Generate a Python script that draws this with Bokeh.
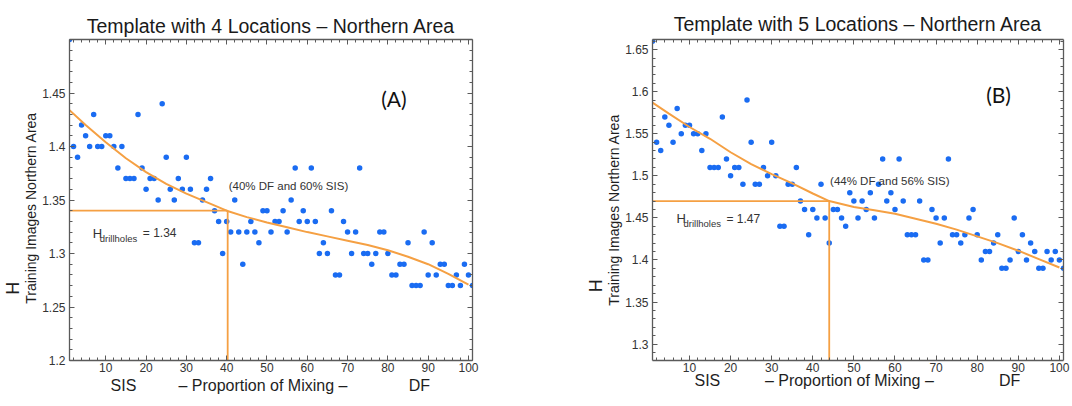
import numpy as np
from bokeh.plotting import figure
from bokeh.layouts import row
from bokeh.models import Range1d, FixedTicker, LinearAxis, Label, CustomJSTickFormatter
from bokeh.embed import file_html
from bokeh.resources import INLINE

# ---------------- data ----------------
mix_index = list(range(1, 102))

h_ti_4loc = [1.50, 1.40, 1.39, 1.42, 1.41, 1.40, 1.43, 1.40, 1.40, 1.41,
             1.41, 1.40, 1.38, 1.40, 1.37, 1.37, 1.37, 1.43, 1.38, 1.36,
             1.37, 1.37, 1.35, 1.44, 1.39, 1.36, 1.35, 1.37, 1.36, 1.39,
             1.36, 1.31, 1.31, 1.35, 1.36, 1.37, 1.34, 1.33, 1.30, 1.33,
             1.32, 1.35, 1.32, 1.29, 1.32, 1.33, 1.32, 1.31, 1.34, 1.34,
             1.32, 1.33, 1.33, 1.34, 1.32, 1.35, 1.38, 1.33, 1.34, 1.33,
             1.38, 1.33, 1.30, 1.31, 1.30, 1.34, 1.28, 1.28, 1.33, 1.32,
             1.30, 1.32, 1.38, 1.30, 1.30, 1.29, 1.30, 1.32, 1.32, 1.30,
             1.28, 1.28, 1.29, 1.29, 1.31, 1.27, 1.27, 1.27, 1.32, 1.28,
             1.31, 1.28, 1.29, 1.29, 1.27, 1.27, 1.28, 1.27, 1.29, 1.28,
             1.27]

h_ti_5loc = [1.66, 1.54, 1.53, 1.57, 1.56, 1.54, 1.58, 1.55, 1.56, 1.56,
             1.55, 1.55, 1.53, 1.55, 1.51, 1.51, 1.51, 1.57, 1.52, 1.50,
             1.51, 1.51, 1.49, 1.59, 1.54, 1.49, 1.49, 1.51, 1.50, 1.54,
             1.50, 1.44, 1.44, 1.49, 1.49, 1.51, 1.47, 1.46, 1.43, 1.46,
             1.45, 1.49, 1.45, 1.42, 1.46, 1.46, 1.45, 1.44, 1.48, 1.47,
             1.45, 1.47, 1.46, 1.48, 1.45, 1.49, 1.52, 1.47, 1.48, 1.46,
             1.52, 1.47, 1.43, 1.43, 1.43, 1.47, 1.40, 1.40, 1.46, 1.45,
             1.42, 1.45, 1.52, 1.43, 1.43, 1.42, 1.43, 1.45, 1.46, 1.43,
             1.40, 1.41, 1.41, 1.42, 1.43, 1.39, 1.39, 1.40, 1.45, 1.41,
             1.43, 1.40, 1.42, 1.41, 1.39, 1.39, 1.41, 1.40, 1.41, 1.40,
             1.39]

fit_x_4loc = [1, 5, 10, 15, 20, 25, 30, 35, 40, 45, 50, 55, 60, 65, 70, 75, 80, 85, 90, 95, 100]
fit_y_4loc = [1.434, 1.420, 1.404, 1.389, 1.376, 1.365, 1.356, 1.348, 1.340, 1.334,
              1.329, 1.3245, 1.320, 1.316, 1.312, 1.308, 1.303, 1.297, 1.290, 1.281, 1.271]

fit_x_5loc = [1, 5, 10, 15, 20, 25, 30, 35, 40, 44, 50, 55, 60, 65, 70, 75, 80, 85, 90, 95, 100]
fit_y_5loc = [1.587, 1.574, 1.558, 1.544, 1.528, 1.514, 1.502, 1.491, 1.479, 1.470,
              1.463, 1.459, 1.455, 1.449, 1.443, 1.436, 1.428, 1.420, 1.411, 1.401, 1.391]

h_drill_4loc = 1.34
cross_x_4loc = 40.25
h_drill_5loc = 1.47
cross_x_5loc = 44.0

x_ticks = [10, 20, 30, 40, 50, 60, 70, 80, 90, 100]
y_ticks_4loc = [1.2, 1.25, 1.3, 1.35, 1.4, 1.45]
y_labels_4loc = ["1.2", "1.25", "1.3", "1.35", "1.4", "1.45"]
y_ticks_5loc = [1.3, 1.35, 1.4, 1.45, 1.5, 1.55, 1.6, 1.65]
y_labels_5loc = ["1.3", "1.35", "1.4", "1.45", "1.5", "1.55", "1.6", "1.65"]

x_axis_words = ["SIS", "\u2013 Proportion of Mixing \u2013", "DF"]
y_axis_main = "H"
y_axis_sub = "Training Images Northern Area"
titles = ["Template with 4 Locations \u2013 Northern Area",
          "Template with 5 Locations \u2013 Northern Area"]
mix_texts = ["(40% DF and 60% SIS)", "(44% DF and 56% SIS)"]
h_texts = ["= 1.34", "= 1.47"]
tags = ["(A)", "(B)"]

# ---------------- styling ----------------
BLUE = "#1a6cf2"
ORANGE = "#f5a043"
AXIS = "#5a5a5a"
TXT = "#1e1e1e"
FONT = "Liberation Sans"


def label_formatter(ticks, labels):
    return CustomJSTickFormatter(
        args=dict(vals=ticks, labs=labels),
        code="const i = vals.findIndex(v => Math.abs(v - tick) < 1e-9); return i >= 0 ? labs[i] : '';")


def style_axis(ax):
    ax.axis_line_color = AXIS
    ax.axis_line_width = 1.3
    ax.major_tick_line_color = AXIS
    ax.minor_tick_line_color = AXIS
    ax.major_tick_in = 5
    ax.major_tick_out = 0
    ax.minor_tick_in = 3
    ax.minor_tick_out = 0
    ax.major_label_text_font = FONT
    ax.major_label_text_font_size = "12px"
    ax.major_label_text_color = "#333333"


def text_axis(ticks, labels, size, standoff, orientation="horizontal"):
    """An axis used only to carry label texts at given data positions."""
    ax = LinearAxis(ticker=FixedTicker(ticks=ticks, minor_ticks=[]),
                    formatter=label_formatter(ticks, labels))
    ax.axis_line_color = None
    ax.major_tick_line_color = None
    ax.minor_tick_line_color = None
    ax.major_tick_in = 0
    ax.major_tick_out = 0
    ax.major_label_standoff = standoff
    ax.major_label_orientation = orientation
    ax.major_label_text_font = FONT
    ax.major_label_text_font_size = size
    ax.major_label_text_color = TXT
    return ax


def make_panel(ys, fit_x, fit_y, y_lo, y_hi, y_ticks, y_labels, h_val, cross_x,
               title, mix_text, h_text, tag, geo):
    p = figure(width=536, height=406, output_backend="svg", toolbar_location=None,
               x_range=Range1d(1, 101), y_range=Range1d(y_lo, y_hi),
               min_border_left=geo["ml"], min_border_right=geo["mr"],
               min_border_top=geo["mt"], min_border_bottom=geo["mb"],
               background_fill_color="white", border_fill_color="white")
    p.outline_line_color = None
    p.xgrid.visible = False
    p.ygrid.visible = False

    p.title.text = title
    p.title.align = "center"
    p.title.text_font = FONT
    p.title.text_font_size = "19.5px"
    p.title.text_font_style = "normal"
    p.title.text_color = "#1a1a1a"
    p.title.standoff = geo["title_so"]

    xt = FixedTicker(ticks=x_ticks, minor_ticks=list(np.arange(2, 101, 2)))
    yt = FixedTicker(ticks=y_ticks, minor_ticks=list(np.round(np.arange(y_lo - 0.05, y_hi + 0.01, 0.01), 2)))

    p.xaxis.ticker = xt
    p.yaxis.ticker = yt
    p.yaxis.formatter = label_formatter(y_ticks, y_labels)
    p.xaxis.major_label_standoff = 2
    p.yaxis.major_label_standoff = 4
    style_axis(p.xaxis[0])
    style_axis(p.yaxis[0])

    top = LinearAxis(ticker=xt, formatter=CustomJSTickFormatter(code="return '';"), major_label_standoff=0)
    right = LinearAxis(ticker=yt, formatter=CustomJSTickFormatter(code="return '';"), major_label_standoff=0)
    style_axis(top)
    style_axis(right)
    top.major_label_text_color = None
    right.major_label_text_color = None
    p.add_layout(top, "above")
    p.add_layout(right, "right")

    # axis titles, carried by label-only axes
    p.add_layout(text_axis(geo["xl_x"], x_axis_words, "16px", geo["xl_so"]), "below")
    p.add_layout(text_axis([geo["sub_y"]], [y_axis_sub], "14px", geo["sub_so"], "vertical"), "left")
    p.add_layout(text_axis([geo["H_y"]], [y_axis_main], "18px", geo["H_so"], "vertical"), "left")

    # data
    p.scatter(mix_index, ys, size=5.5, fill_color=BLUE, line_color=None)
    p.line(fit_x, fit_y, line_color=ORANGE, line_width=2)
    p.line([1, cross_x], [h_val, h_val], line_color=ORANGE, line_width=1.8)
    p.line([cross_x, cross_x], [y_lo, h_val], line_color=ORANGE, line_width=1.8)

    def lab(**kw):
        base = dict(text_font=FONT, text_color="#333333")
        base.update(kw)
        p.add_layout(Label(**base))

    lab(x=geo["mix_x"], y=geo["mix_y"], text=mix_text, text_font_size="11.5px",
        text_align="left", text_baseline="middle")
    lab(x=geo["hd_x"], y=geo["hd_y"], text="H", text_font_size="13px",
        text_align="left", text_baseline="alphabetic")
    lab(x=geo["hd_x"], y=geo["hd_y"], x_offset=7, y_offset=-5, text="drillholes", text_font_size="9.5px",
        text_align="left", text_baseline="alphabetic")
    lab(x=geo["hd_x"], y=geo["hd_y"], x_offset=50, text=h_text, text_font_size="12px",
        text_align="left", text_baseline="alphabetic")
    lab(x=geo["tag_x"], y=geo["tag_y"], text=tag, text_font="Lato", text_font_size="21px",
        text_align="center", text_baseline="middle", text_color="#111111")
    return p


geo_a = dict(ml=63, mr=64, mt=36, mb=46, title_so=5,
             H_y=1.2676, H_so=-3, sub_y=1.3426, sub_so=0,
             xl_x=[14.4, 49.0, 87.8], xl_so=2,
             mix_x=40.5, mix_y=1.363, hd_x=6.78, hd_y=1.3188,
             tag_x=81.5, tag_y=1.445)
geo_b = dict(ml=116, mr=9, mt=39, mb=40, title_so=9,
             H_y=1.3692, H_so=-3, sub_y=1.4595, sub_so=0,
             xl_x=[14.35, 48.9, 87.9], xl_so=-3,
             mix_x=44.2, mix_y=1.494, hd_x=6.83, hd_y=1.4489,
             tag_x=85.2, tag_y=1.5967)

p1 = make_panel(h_ti_4loc, fit_x_4loc, fit_y_4loc, 1.2, 1.5, y_ticks_4loc, y_labels_4loc,
                h_drill_4loc, cross_x_4loc, titles[0], mix_texts[0], h_texts[0], tags[0], geo_a)
p2 = make_panel(h_ti_5loc, fit_x_5loc, fit_y_5loc, 1.2805, 1.662, y_ticks_5loc, y_labels_5loc,
                h_drill_5loc, cross_x_5loc, titles[1], mix_texts[1], h_texts[1], tags[1], geo_b)

layout = row(p1, p2)
open("out.html", "w").write(file_html(layout, INLINE))
